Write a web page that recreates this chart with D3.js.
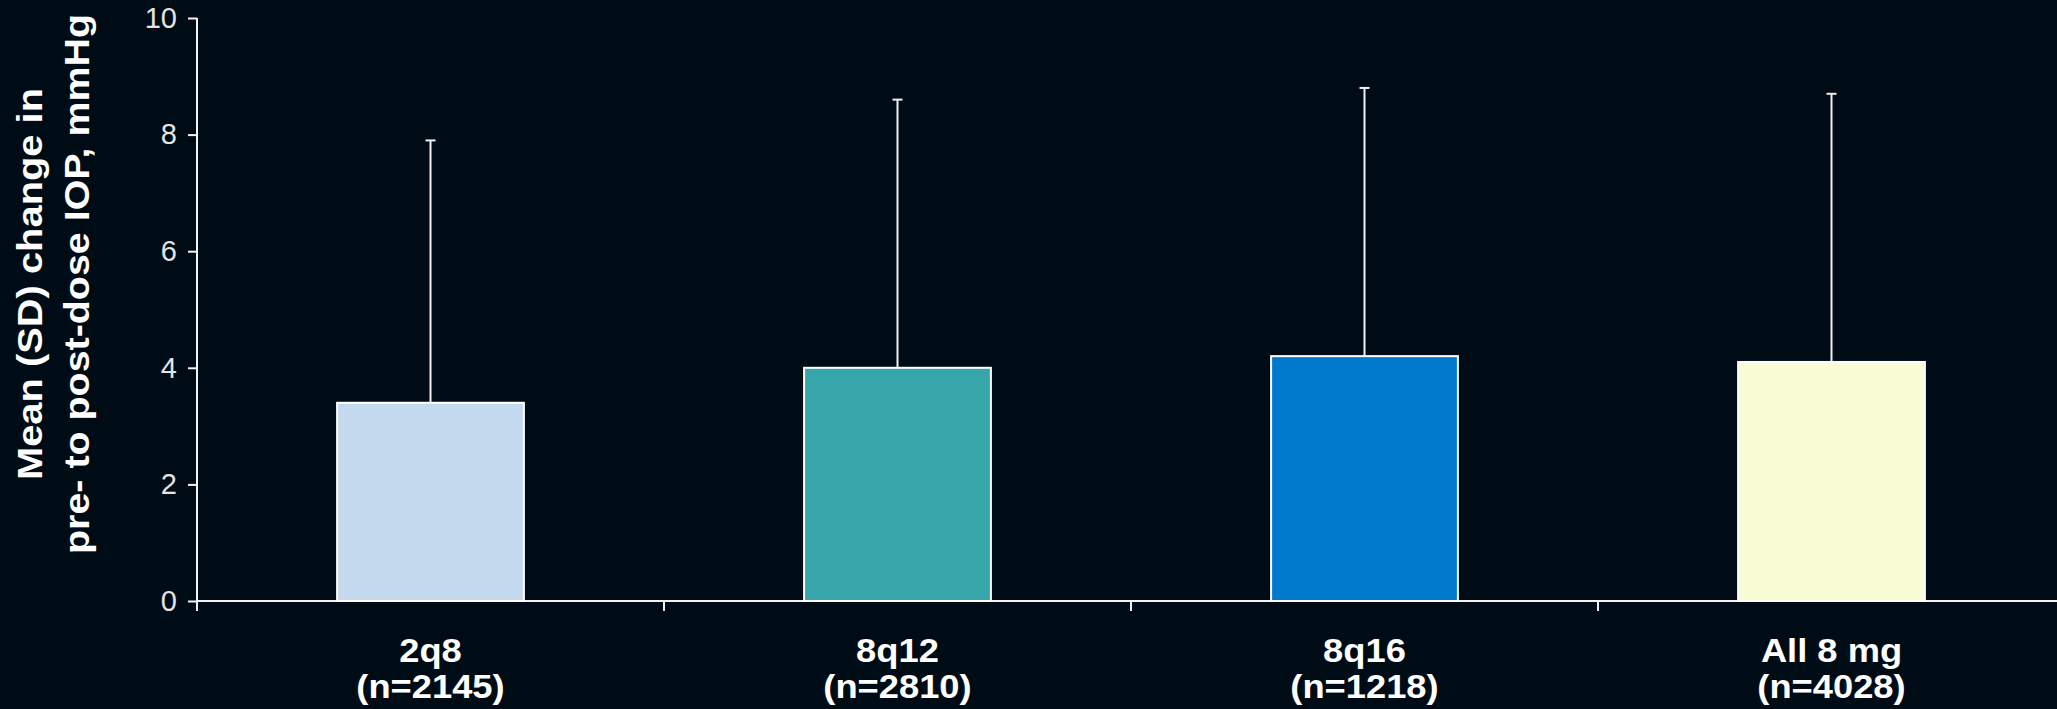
<!DOCTYPE html>
<html><head><meta charset="utf-8">
<script src="https://cdn.jsdelivr.net/npm/d3@7"></script>
<style>html,body{margin:0;padding:0;background:#000c15;}svg{display:block;}</style>
</head><body>
<script>
const categories = ["2q8", "8q12", "8q16", "All 8 mg"];
const nLabels = ["(n=2145)", "(n=2810)", "(n=1218)", "(n=4028)"];
const means = [3.4, 4.0, 4.2, 4.1];
const sds = [4.5, 4.6, 4.6, 4.6];
const barColors = ["#c5d9ee", "#36a6aa", "#007acc", "#f8fdd3"];
const yTicks = [0, 2, 4, 6, 8, 10];
const yTitle = ["Mean  (SD) change in", "pre- to post-dose IOP, mmHg"];

const W = 2057, H = 709;
const svg = d3.select("body").append("svg").attr("width", W).attr("height", H);
svg.append("rect").attr("width", W).attr("height", H).attr("fill", "#000c15");

const x0 = 197, bandW = 467;
const x = d3.scaleBand().domain(categories).range([x0, x0 + bandW * categories.length]).paddingInner(0.6).paddingOuter(0.3);
const y = d3.scaleLinear().domain([0, 10]).range([601, 18]);

const axisColor = "#f2f2f2";
// y axis
const yAxis = svg.append("g").attr("transform", `translate(${x0},0)`)
  .call(d3.axisLeft(y).tickValues(yTicks).tickSize(9).tickPadding(11).tickSizeOuter(0));
yAxis.select(".domain").attr("stroke", axisColor).attr("stroke-width", 2);
yAxis.selectAll(".tick line").attr("stroke", axisColor).attr("stroke-width", 2);
yAxis.selectAll(".tick text").attr("fill", "#e4e4e4").attr("font-family", "Liberation Sans, Arial, sans-serif").attr("font-size", 29);
yAxis.select(".domain").attr("d", `M0,${y(10)}V${y(0) + 10}`);

// x axis baseline
svg.append("line").attr("x1", x0).attr("x2", W).attr("y1", y(0)).attr("y2", y(0))
  .attr("stroke", axisColor).attr("stroke-width", 2);
// ticks between categories (band boundaries)
const step = x.step();
const bounds = categories.slice(1).map(c => x(c) - x.paddingInner() * step / 2);
svg.selectAll(".xtick").data(bounds).enter().append("line")
  .attr("x1", d => d).attr("x2", d => d).attr("y1", y(0)).attr("y2", y(0) + 10)
  .attr("stroke", axisColor).attr("stroke-width", 2);

// error bars
const cap = 5;
const eb = svg.selectAll(".eb").data(categories).enter().append("g");
eb.append("line")
  .attr("x1", (d) => x(d) + x.bandwidth() / 2).attr("x2", (d) => x(d) + x.bandwidth() / 2)
  .attr("y1", (d, i) => y(means[i])).attr("y2", (d, i) => y(means[i] + sds[i]))
  .attr("stroke", "#f0f0f0").attr("stroke-width", 2);
eb.append("line")
  .attr("x1", (d) => x(d) + x.bandwidth() / 2 - cap).attr("x2", (d) => x(d) + x.bandwidth() / 2 + cap)
  .attr("y1", (d, i) => y(means[i] + sds[i])).attr("y2", (d, i) => y(means[i] + sds[i]))
  .attr("stroke", "#f0f0f0").attr("stroke-width", 2);

// bars
svg.selectAll(".bar").data(categories).enter().append("rect")
  .attr("x", d => x(d)).attr("width", x.bandwidth())
  .attr("y", (d, i) => y(means[i])).attr("height", (d, i) => y(0) - y(means[i]))
  .attr("fill", (d, i) => barColors[i]).attr("stroke", "#ffffff").attr("stroke-width", 2);

// x labels
const lab = svg.selectAll(".xl").data(categories).enter().append("g");
function addLine(sel, yy, txt) {
  sel.append("text").attr("x", d => x(d) + x.bandwidth() / 2).attr("y", yy).attr("text-anchor", "middle")
    .attr("fill", "#ffffff").attr("font-family", "Liberation Sans, Arial, sans-serif")
    .attr("font-weight", "bold").attr("font-size", 33).text(txt)
    .each(function () { const l = this.getComputedTextLength(); d3.select(this).attr("textLength", l * 1.1).attr("lengthAdjust", "spacingAndGlyphs"); });
}
addLine(lab, 662, d => d);
addLine(lab, 698, (d, i) => nLabels[i]);

// y title
const tt = svg.append("g").attr("transform", "translate(0,284) rotate(-90)");
const lens = [392, 540];
const bases = [42, 89];
yTitle.forEach((t, i) => {
  tt.append("text").attr("x", 0).attr("y", bases[i]).attr("text-anchor", "middle")
    .attr("fill", "#ffffff").attr("font-family", "Liberation Sans, Arial, sans-serif")
    .attr("font-weight", "bold").attr("font-size", 35)
    .attr("textLength", lens[i]).attr("lengthAdjust", "spacingAndGlyphs").text(t);
});
</script>
</body></html>
